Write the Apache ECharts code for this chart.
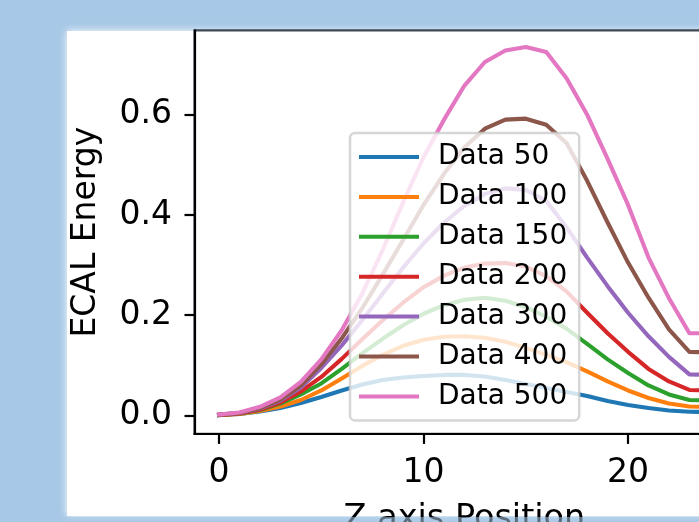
<!DOCTYPE html>
<html>
<head>
<meta charset="utf-8">
<script src="https://cdn.jsdelivr.net/npm/echarts@6/dist/echarts.min.js"></script>
<style>
  html, body { margin: 0; padding: 0; }
  #main { width: 699px; height: 522px; }
</style>
</head>
<body>
<div id="main"></div>
<script>
// Z positions and ECAL energy per dataset
const zPos = [0, 1, 2, 3, 4, 5, 6, 7, 8, 9, 10, 11, 12, 13, 14, 15, 16, 17, 18, 19, 20, 21, 22, 23, 24];
const data50 = [0.001, 0.003, 0.008, 0.015, 0.025, 0.037, 0.05, 0.062, 0.071, 0.076, 0.079, 0.081, 0.081, 0.078, 0.071, 0.063, 0.055, 0.047, 0.039, 0.029, 0.021, 0.015, 0.01, 0.0075, 0.007];
const data100 = [0.001, 0.003, 0.009, 0.018, 0.031, 0.05, 0.074, 0.099, 0.121, 0.139, 0.151, 0.157, 0.158, 0.155, 0.147, 0.135, 0.121, 0.106, 0.088, 0.068, 0.05, 0.035, 0.024, 0.018, 0.017];
const data150 = [0.001, 0.004, 0.011, 0.024, 0.042, 0.064, 0.093, 0.124, 0.153, 0.18, 0.203, 0.22, 0.231, 0.235, 0.229, 0.216, 0.197, 0.173, 0.143, 0.112, 0.085, 0.06, 0.042, 0.031, 0.03];
const data200 = [0.001, 0.004, 0.012, 0.026, 0.048, 0.077, 0.113, 0.152, 0.19, 0.225, 0.256, 0.279, 0.295, 0.303, 0.304, 0.297, 0.278, 0.247, 0.205, 0.164, 0.127, 0.093, 0.068, 0.051, 0.05];
const data300 = [0.002, 0.005, 0.014, 0.03, 0.056, 0.095, 0.14, 0.19, 0.243, 0.295, 0.343, 0.385, 0.418, 0.442, 0.453, 0.45, 0.428, 0.375, 0.315, 0.258, 0.205, 0.158, 0.117, 0.082, 0.081];
const data400 = [0.002, 0.005, 0.015, 0.032, 0.06, 0.102, 0.154, 0.214, 0.281, 0.35, 0.42, 0.482, 0.535, 0.572, 0.59, 0.592, 0.58, 0.543, 0.468, 0.385, 0.305, 0.235, 0.172, 0.127, 0.126];
const data500 = [0.002, 0.006, 0.0175, 0.036, 0.067, 0.112, 0.17, 0.243, 0.33, 0.425, 0.515, 0.59, 0.658, 0.705, 0.728, 0.735, 0.725, 0.672, 0.6, 0.512, 0.42, 0.315, 0.234, 0.164, 0.164];

const seriesNames = ['Data 50', 'Data 100', 'Data 150', 'Data 200', 'Data 300', 'Data 400', 'Data 500'];
const seriesData = [data50, data100, data150, data200, data300, data400, data500];
const colors = ['#1f77b4', '#ff7f0e', '#2ca02c', '#d62728', '#9467bd', '#8c564b', '#e377c2'];

const xTicks = [0, 10, 20];
const yTicks = [0, 0.2, 0.4, 0.6];

const font = 'DejaVu Sans';
const myChart = echarts.init(document.getElementById('main'));

const option = {
  animation: false,
  backgroundColor: '#a7c8e6',
  color: colors,
  graphic: [
    { // white figure panel with soft edge
      type: 'rect', z: -10, silent: true,
      shape: { x: 67, y: 31, width: 700, height: 485 },
      style: { fill: '#ffffff', shadowBlur: 8, shadowColor: '#ffffff' }
    },
    { // bottom band over the cut-off x label
      type: 'rect', z: 100, silent: true,
      shape: { x: 0, y: 517, width: 699, height: 6 },
      style: { fill: 'rgba(167,200,230,0.55)' }
    }
  ],
  grid: {
    left: 194.5, top: 30.4, width: 539.9, height: 403.5,
    outerBoundsMode: 'none', containLabel: false,
    show: true, backgroundColor: 'transparent',
    borderColor: '#3f4954', borderWidth: 2.2
  },
  legend: {
    orient: 'vertical',
    left: 350, top: 133,
    padding: [10, 12, 10, 9],
    itemWidth: 60, itemHeight: 4, itemGap: 11.9,
    icon: 'rect',
    backgroundColor: 'rgba(255,255,255,0.8)',
    borderColor: 'rgba(204,204,204,0.8)', borderWidth: 2.5, borderRadius: 5,
    textStyle: { fontFamily: font, fontSize: 28, color: '#000', padding: [0, 0, 0, 14] },
    data: seriesNames
  },
  xAxis: {
    type: 'value', min: -1.2, max: 25.2,
    name: 'Z axis Position', nameLocation: 'middle', nameGap: 68,
    nameTextStyle: { fontFamily: font, fontSize: 33.5, color: '#000' },
    axisLine: { onZero: false, lineStyle: { color: '#000', width: 2.2 } },
    axisTick: { customValues: xTicks, length: 10, lineStyle: { color: '#000', width: 2.2 } },
    axisLabel: { customValues: xTicks, margin: 23, fontFamily: font, fontSize: 33, color: '#000',
      formatter: v => String(Math.round(v)) },
    splitLine: { show: false }
  },
  yAxis: {
    type: 'value', min: -0.0366, max: 0.768,
    name: 'ECAL Energy', nameLocation: 'middle', nameGap: 92,
    nameTextStyle: { fontFamily: font, fontSize: 33, color: '#000' },
    axisLine: { onZero: false, lineStyle: { color: '#000', width: 2.2 } },
    axisTick: { customValues: yTicks, length: 10, lineStyle: { color: '#000', width: 2.2 } },
    axisLabel: { customValues: yTicks, margin: 22.5, fontFamily: font, fontSize: 33, color: '#000',
      formatter: v => v.toFixed(1) },
    splitLine: { show: false }
  },
  series: seriesNames.map((name, i) => ({
    name: name,
    type: 'line',
    showSymbol: false,
    symbol: 'none',
    data: zPos.map((z, j) => [z, seriesData[i][j]]),
    lineStyle: { width: 4.1, cap: 'square', join: 'round' }
  }))
};

myChart.setOption(option);
</script>
</body>
</html>
